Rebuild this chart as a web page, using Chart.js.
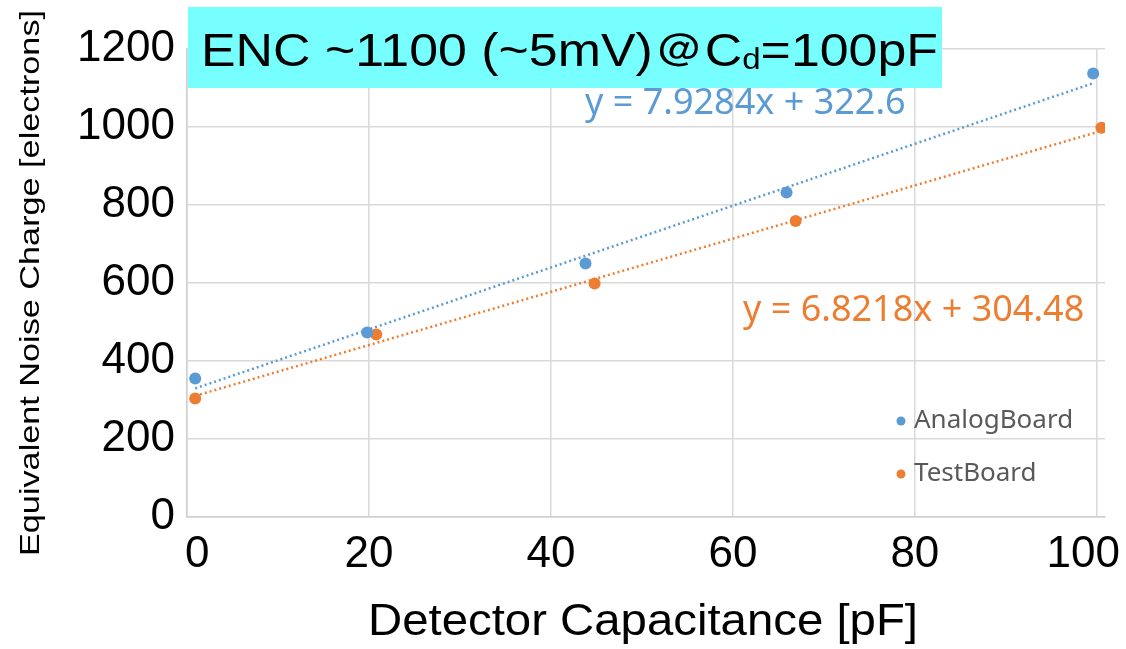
<!DOCTYPE html>
<html>
<head>
<meta charset="utf-8">
<script src="https://cdn.jsdelivr.net/npm/chart.js@4.4.1/dist/chart.umd.min.js"></script>
<style>
  html, body { margin: 0; padding: 0; background: #fff; }
  #wrap { width: 1126px; height: 649px; }
</style>
</head>
<body>
<div id="wrap"><canvas id="enc"></canvas></div>
<script>
// valori
const analogX = [0.9, 19.8, 43.8, 65.9, 99.6];
const analogY = [355, 473, 650, 832, 1137];
const testX = [0.9, 20.8, 44.8, 66.9, 100.5];
const testY = [304, 468, 599, 759, 998];
const seriesNames = ["AnalogBoard", "TestBoard"];
const fitSlope = [7.9284, 6.8218];
const fitIntercept = [322.6, 304.48];
const xTicks = [0, 20, 40, 60, 80, 100];
const yTicks = [0, 200, 400, 600, 800, 1000, 1200];
const xTitle = "Detector Capacitance [pF]";
const yTitle = "Equivalent Noise Charge [electrons]";

const BLUE = "#5B9BD5";
const ORANGE = "#ED7D31";
const HELV = '"Liberation Sans", Arial, Helvetica, sans-serif';

const toPoints = (xs, ys) => xs.map((v, i) => ({ x: v, y: ys[i] }));
// retta di fit sull'intervallo dei dati
const fitLine = (xs, k) => {
  const x0 = Math.min(...xs), x1 = Math.max(...xs);
  return [x0, x1].map(v => ({ x: v, y: fitSlope[k] * v + fitIntercept[k] }));
};

// testo centrato in (cx, cy), allungato fino alla larghezza voluta
function fitText(ctx, text, cx, cy, width, rot) {
  const w = ctx.measureText(text).width;
  ctx.save();
  ctx.translate(cx, cy);
  ctx.rotate(rot || 0);
  ctx.scale(width / w, 1);
  ctx.textAlign = "center";
  ctx.textBaseline = "middle";
  ctx.fillText(text, 0, 0);
  ctx.restore();
}

const overlay = {
  id: "overlay",
  afterDraw(chart) {
    const { ctx, scales: { x, y } } = chart;
    ctx.save();

    // etichette asse x
    ctx.font = "44px " + HELV;
    ctx.fillStyle = "#000";
    ctx.textBaseline = "middle";
    ctx.textAlign = "center";
    xTicks.forEach(v => {
      const s = String(v);
      const w = ctx.measureText(s).width;
      let px = x.getPixelForValue(v);
      px = Math.max(px, x.left + w / 2 - 2);
      px = Math.min(px, chart.width - 6 - w / 2);
      ctx.fillText(s, px, 555);
    });

    // titoli degli assi
    fitText(ctx, xTitle, 643, 623, 550, 0);
    ctx.font = "28px " + HELV;
    fitText(ctx, yTitle, 31, (y.top + y.bottom) / 2, 546, -Math.PI / 2);

    // equazioni dei fit
    ctx.font = '36px "Noto Sans", sans-serif';
    ctx.textAlign = "left";
    ctx.textBaseline = "middle";
    ctx.fillStyle = BLUE;
    ctx.fillText("y = " + fitSlope[0] + "x + " + fitIntercept[0], 585, 104);
    ctx.fillStyle = ORANGE;
    ctx.fillText("y = " + fitSlope[1] + "x + " + fitIntercept[1], 743, 311);

    // legenda
    ctx.font = '26px "Noto Sans", sans-serif';
    [BLUE, ORANGE].forEach((col, i) => {
      const cy = 421 + i * 53;
      ctx.fillStyle = col;
      ctx.beginPath();
      ctx.arc(901, cy, 4.5, 0, Math.PI * 2);
      ctx.fill();
      ctx.fillStyle = "#595959";
      ctx.fillText(seriesNames[i], 914, cy);
    });

    // riquadro titolo
    ctx.fillStyle = "#77FFFF";
    ctx.fillRect(188, 7, 754, 81);
    ctx.fillStyle = "#000";
    ctx.textBaseline = "alphabetic";
    ctx.textAlign = "left";
    const parts = [
      ["ENC ~1100 (~5mV)\uFF20C", 47, 0],
      ["d", 30, 3],
      ["=100pF", 47, 0]
    ];
    let total = 0;
    parts.forEach(p => { ctx.font = p[1] + "px " + HELV; total += ctx.measureText(p[0]).width; });
    ctx.translate(201, 0);
    ctx.scale(737 / total, 1);
    let tx = 0;
    parts.forEach(p => {
      ctx.font = p[1] + "px " + HELV;
      ctx.fillText(p[0], tx, 66 + p[2]);
      tx += ctx.measureText(p[0]).width;
    });

    ctx.restore();
  }
};

new Chart(document.getElementById("enc"), {
  type: "scatter",
  data: {
    datasets: [
      { label: seriesNames[0], data: toPoints(analogX, analogY), backgroundColor: BLUE, borderWidth: 0, pointRadius: 6 },
      { label: seriesNames[1], data: toPoints(testX, testY), backgroundColor: ORANGE, borderWidth: 0, pointRadius: 6 },
      { data: fitLine(analogX, 0), showLine: true, borderColor: BLUE, borderWidth: 2.5, borderDash: [2, 3], pointRadius: 0 },
      { data: fitLine(testX, 1), showLine: true, borderColor: ORANGE, borderWidth: 2.5, borderDash: [2, 3], pointRadius: 0 }
    ]
  },
  options: {
    responsive: true,
    maintainAspectRatio: false,
    animation: false,
    layout: { padding: { top: 49, right: 21, left: 0, bottom: 0 } },
    plugins: { legend: { display: false }, tooltip: { enabled: false } },
    scales: {
      x: {
        type: "linear",
        min: 0,
        max: 100.9,
        afterBuildTicks: s => { s.ticks = xTicks.map(v => ({ value: v })); },
        afterFit: s => { s.height = 132; },
        ticks: { display: false },
        grid: { color: "#d9d9d9", lineWidth: 1.5, drawTicks: false },
        border: { color: "#cfcfcf", width: 1.5 }
      },
      y: {
        min: 0,
        max: 1200,
        afterBuildTicks: s => { s.ticks = yTicks.map(v => ({ value: v })); },
        afterFit: s => { s.width = 187; },
        ticks: {
          color: "#000",
          padding: 12,
          font: { family: HELV, size: 44 },
          callback: v => String(v)
        },
        grid: { color: "#d9d9d9", lineWidth: 1.5, drawTicks: false },
        border: { color: "#cfcfcf", width: 1.5 }
      }
    }
  },
  plugins: [overlay]
});
</script>
</body>
</html>
